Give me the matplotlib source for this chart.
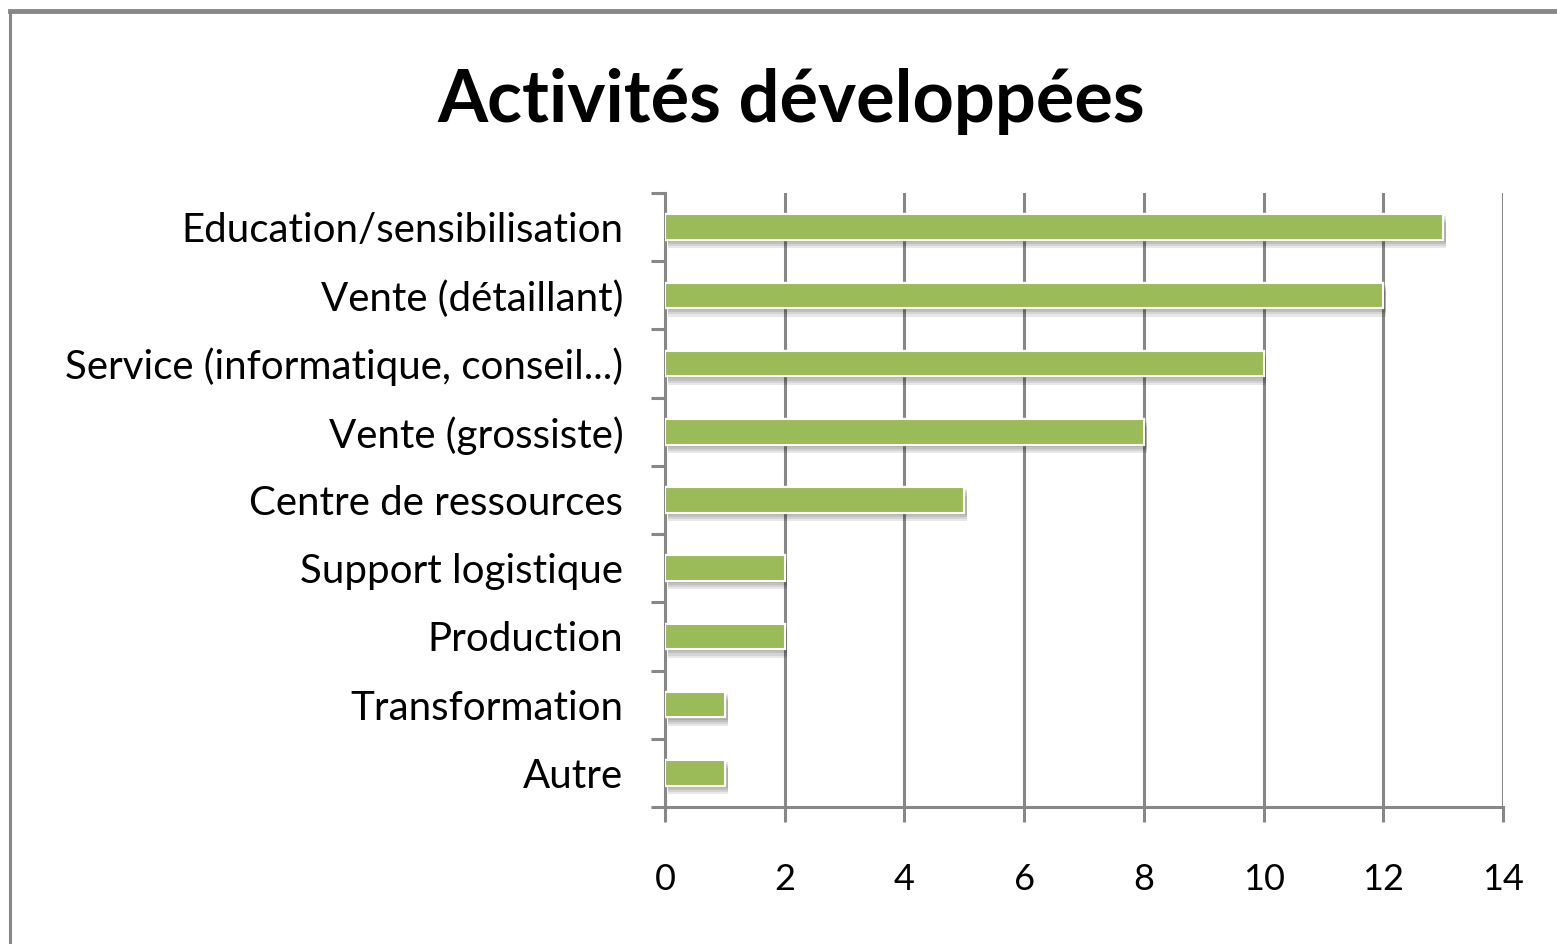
import matplotlib.pyplot as plt
import matplotlib.patheffects as pe
from matplotlib.lines import Line2D

# Données
activites = ['Education/sensibilisation', 'Vente (détaillant)',
             'Service (informatique, conseil...)', 'Vente (grossiste)',
             'Centre de ressources', 'Support logistique', 'Production',
             'Transformation', 'Autre']
nombres = [13, 12, 10, 8, 5, 2, 2, 1, 1]
graduations = [0, 2, 4, 6, 8, 10, 12, 14]

plt.rcParams['font.family'] = ['Lato', 'DejaVu Sans']

gris = '#878787'
vert = '#9BBB59'

fig = plt.figure(figsize=(15.57, 9.44), dpi=100)
ax = fig.add_axes([0.4271, 0.1451, 0.5382, 0.6504])

# Cadre du graphique (haut et gauche seulement visibles)
fig.add_artist(Line2D([0.0065, 0.0065], [0, 0.988], transform=fig.transFigure, color=gris, lw=2.2))
fig.add_artist(Line2D([0.0065, 1.0], [0.988, 0.988], transform=fig.transFigure, color=gris, lw=3.5))

fig.text(0.508, 0.893, 'Activités développées', ha='center', va='center',
         fontsize=52, fontweight='bold', color='black')

positions = list(range(len(activites)))[::-1]
barres = ax.barh(positions, nombres, height=0.375, color=vert,
                 edgecolor='white', linewidth=1.5, zorder=3)
# ombre floue sous chaque barre
ombre = [pe.withSimplePatchShadow(offset=(2, -d), shadow_rgbFace='black', alpha=0.09) for d in (6, 4.5, 3, 1.5)]
for b in barres:
    b.set_path_effects(ombre + [pe.Normal()])

ax.set_xlim(0, 14)
ax.set_ylim(-0.5, len(activites) - 0.5)
ax.set_xticks(graduations)
ax.set_xticklabels([str(g) for g in graduations])
ax.set_yticks(positions)
ax.set_yticklabels(activites)
ax.set_yticks([p - 0.5 for p in range(len(activites) + 1)], minor=True)

ax.set_axisbelow(True)
ax.grid(axis='x', color=gris, lw=2.2, zorder=0)

for s in ['top', 'right']:
    ax.spines[s].set_visible(False)
for s in ['left', 'bottom']:
    ax.spines[s].set_color(gris)
    ax.spines[s].set_linewidth(2.2)

ax.tick_params(axis='y', which='major', length=0, pad=30, labelsize=29)
ax.tick_params(axis='y', which='minor', length=10, width=2.2, color=gris, direction='out')
ax.tick_params(axis='x', which='major', length=11, width=2.2, color=gris, pad=29, labelsize=26)

fig.savefig('out.png', dpi=100, facecolor='white')
